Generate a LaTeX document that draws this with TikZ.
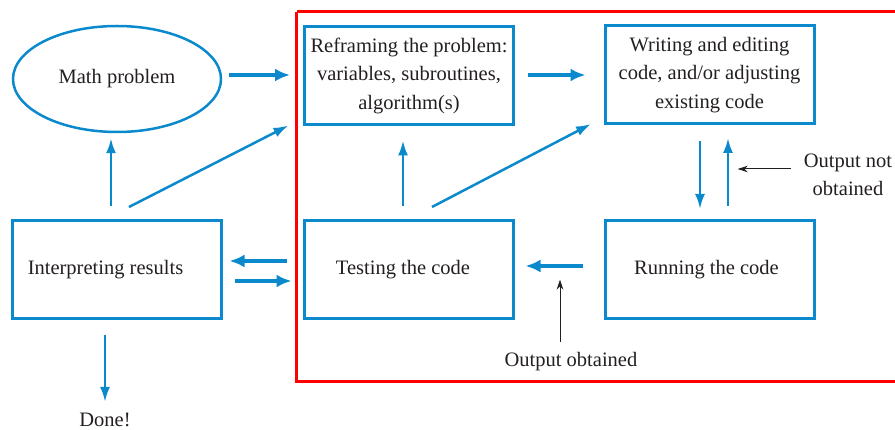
\documentclass[tikz,border=0pt]{standalone}
\usepackage{fontspec}
\setmainfont{Liberation Serif}
\usetikzlibrary{arrows.meta,calc,shapes.geometric}
\definecolor{cblue}{RGB}{10,138,204}
\definecolor{ctext}{RGB}{35,31,32}
\tikzset{
  txt/.style={text=ctext,font=\rmfamily\fontsize{20.5}{28.5}\selectfont},
  box/.style={txt,draw=cblue,line width=3pt,minimum width=209pt,minimum height=98pt,inner sep=0pt,align=center},
  oval/.style={txt,ellipse,draw=cblue,line width=2.5pt,minimum width=208pt,minimum height=106pt,inner sep=0pt},
  lbl/.style={txt,inner sep=0pt,align=center},
  bigarrow/.style={draw=cblue,line width=4pt,-{Latex[length=15pt,width=13pt]}},
  thinarrow/.style={draw=cblue,line width=2.5pt,-{Latex[length=15pt,width=10pt]}},
  blackarrow/.style={draw=ctext,line width=1pt,-{Stealth[length=10pt,width=6.5pt,inset=3pt]}},
}
\begin{document}
\begin{tikzpicture}[x=1pt,y=-1pt]
\useasboundingbox (0,0) rectangle (895,430);
% red frame
\draw[red,line width=3pt] (296.5,12) -- (905,12) (296.5,12) -- (296.5,382) -- (905,382);
% nodes
\node[oval] (math) at (117,79) {Math problem};
\node[box] (reframe) at (409,75.5) {Reframing the problem:\\variables, subroutines,\\algorithm(s)};
\node[box] (write) at (709.5,75) {Writing and editing\\code, and/or adjusting\\existing code};
\node[box] (interp) at (116.5,270) {Interpreting results\hspace*{22pt}};
\node[box] (test) at (409,270) {Testing the code\hspace*{12pt}};
\node[box] (run) at (709.5,270) {Running the code\hspace*{6pt}};
\node[lbl] (notob) at (848,175) {Output not\\obtained};
\node[lbl] (oo) at (571,362) {Output obtained};
\node[lbl] (done) at (105,420) {Done!};
% arrows
\draw[bigarrow] ($(math.east)+(7,-4)$) -- ($(reframe.west)+(-13,-0.5)$);
\draw[bigarrow] ($(reframe.east)+(12.5,-0.5)$) -- ($(write.west)+(-18,0)$);
\draw[thinarrow] ($(interp.north)+(-5.5,-13.5)$) -- ($(math.south)+(-6,5)$);
\draw[thinarrow] ($(interp.north)+(12.5,-12.5)$) -- ($(reframe.south west)+(-14.5,-0.5)$);
\draw[thinarrow] ($(test.north)+(-6,-13.5)$) -- ($(reframe.south)+(-6,14.5)$);
\draw[thinarrow] ($(test.north)+(23,-12.5)$) -- ($(write.south west)+(-12.5,-1.5)$);
\draw[thinarrow] ($(write.south)+(-9.5,15.5)$) -- ($(run.north)+(-9.5,-10.5)$);
\draw[thinarrow] ($(run.north)+(18.5,-13.5)$) -- ($(write.south)+(18.5,12.5)$);
\draw[bigarrow] ($(run.west)+(-20.5,-4)$) -- ($(test.east)+(10.5,-4)$);
\draw[bigarrow] ($(test.west)+(-16.5,-9)$) -- ($(interp.east)+(7,-9)$);
\draw[bigarrow] ($(interp.east)+(12,11)$) -- ($(test.west)+(-11.5,11)$);
\draw[thinarrow] ($(interp.south)+(-11.5,14.5)$) -- ($(done.north)+(0,-11)$);
\draw[blackarrow] ($(notob.west)+(-12.5,-6)$) -- ($(notob.west)+(-66,-6)$);
\draw[blackarrow] ($(oo.north)+(-11,-11)$) -- ($(oo.north)+(-11,-73)$);
\end{tikzpicture}
\end{document}
